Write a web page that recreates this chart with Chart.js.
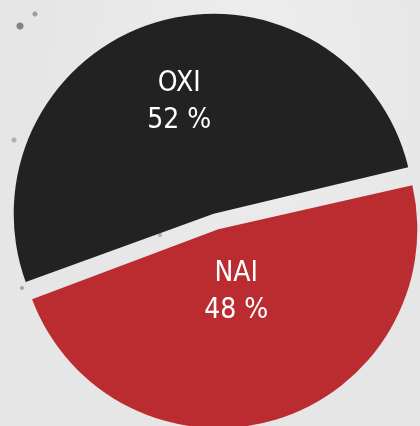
<!DOCTYPE html>
<html>
<head>
<meta charset="utf-8">
<script src="https://cdn.jsdelivr.net/npm/chart.js@4.4.1/dist/chart.umd.min.js"></script>
<style>
  html, body { margin: 0; padding: 0; }
  body {
    width: 420px;
    height: 426px;
    overflow: hidden;
    background-color: #e6e6e6;
    background-image:
      radial-gradient(circle at 20px 26px, rgba(90,90,90,0.7) 0 3px, transparent 4px),
      radial-gradient(circle at 35px 14px, rgba(110,110,110,0.6) 0 2px, transparent 3px),
      radial-gradient(circle at 14px 140px, rgba(120,120,120,0.5) 0 2px, transparent 3px),
      radial-gradient(circle at 22px 288px, rgba(100,100,100,0.5) 0 1.5px, transparent 2.5px),
      radial-gradient(circle at 160px 235px, rgba(120,120,120,0.5) 0 1.5px, transparent 2.5px),
      radial-gradient(ellipse at 60% 15%, rgba(255,255,255,0.3), transparent 60%);
  }
  #wrap { position: relative; width: 420px; height: 426px; }
</style>
</head>
<body>
<div id="wrap"><canvas id="voteChart" width="420" height="426"></canvas></div>
<script>
const labels = ["OXI", "NAI"];
const values = [52, 48];
const colors = ["#222222", "#bb2c30"];

// draws "NAME / NN %" inside each slice, along the slice's middle angle
const sliceLabels = {
  id: 'sliceLabels',
  afterDatasetsDraw(chart, args, opts) {
    const ctx = chart.ctx;
    const meta = chart.getDatasetMeta(0);
    const data = chart.data.datasets[0].data;
    ctx.save();
    ctx.fillStyle = opts.color;
    ctx.font = opts.font;
    if ('fontStretch' in ctx) ctx.fontStretch = 'condensed';
    ctx.textAlign = 'center';
    ctx.textBaseline = 'alphabetic';
    meta.data.forEach((arc, i) => {
      const { x, y, startAngle, endAngle, outerRadius } = arc.getProps(['x', 'y', 'startAngle', 'endAngle', 'outerRadius'], true);
      const mid = (startAngle + endAngle) / 2;
      const shift = (arc.options.offset || 0) / 4;
      const dist = shift + outerRadius * opts.distance[i];
      const cx = x + Math.cos(mid) * dist;
      const cy = y + Math.sin(mid) * dist;
      ctx.fillText(chart.data.labels[i], cx, cy - 8);
      ctx.fillText(data[i] + ' %', cx, cy + 29);
    });
    ctx.restore();
  }
};

const ctx = document.getElementById("voteChart");
const voteChart = new Chart(ctx, {
  type: "pie",
  data: {
    labels: labels,
    datasets: [{
      data: values,
      backgroundColor: colors,
      borderWidth: 0,
      offset: 32,
      hoverOffset: 0,
      clip: false
    }]
  },
  options: {
    responsive: false,
    animation: false,
    events: [],
    rotation: 249.7,
    radius: 192,
    layout: { padding: { left: 12, right: 0, top: 17, bottom: 0 } },
    plugins: {
      legend: { display: false },
      tooltip: { enabled: false },
      sliceLabels: {
        color: '#ffffff',
        font: '28px "DejaVu Sans", sans-serif',
        distance: [0.625, 0.325]
      }
    }
  },
  plugins: [sliceLabels]
});
</script>
</body>
</html>
